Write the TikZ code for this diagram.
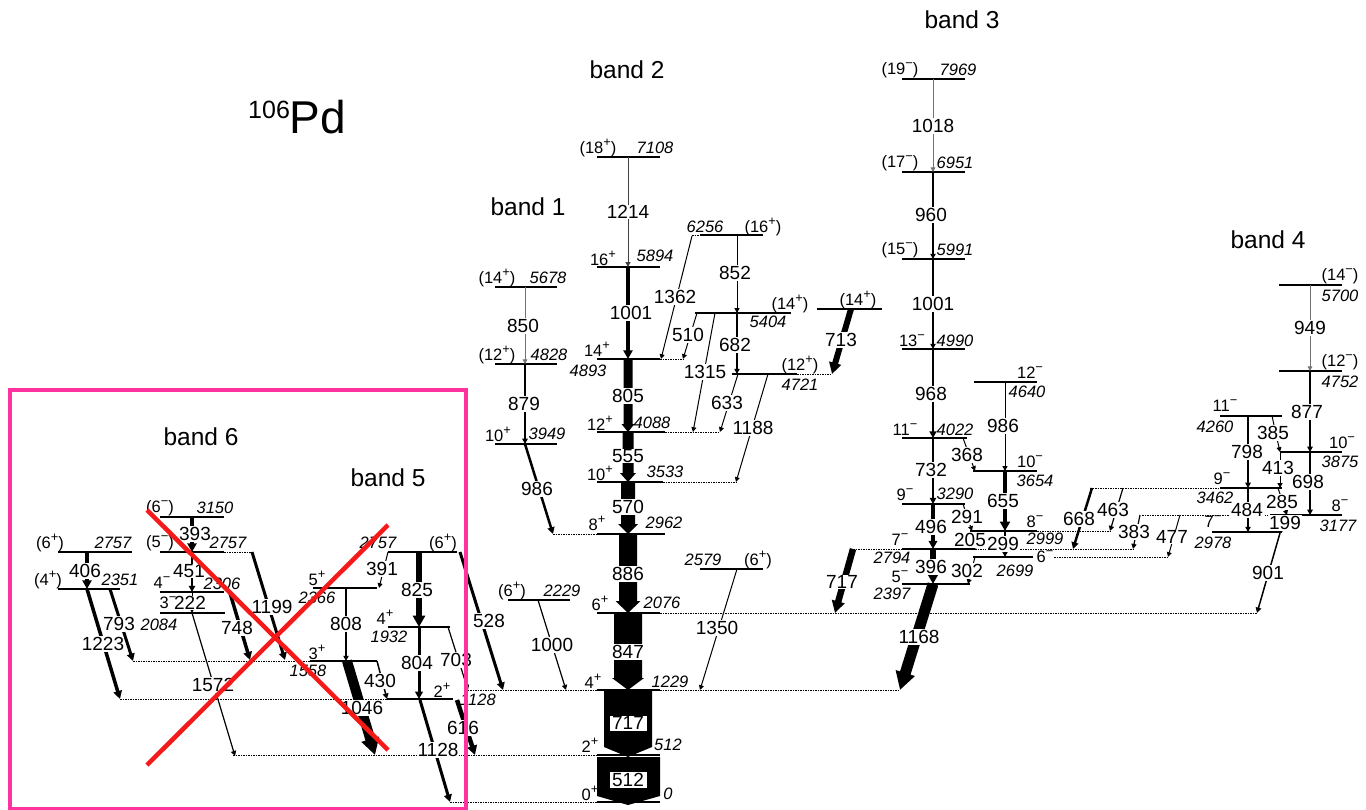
\documentclass[tikz,border=0pt]{standalone}
\usepackage{fontspec}
\usepackage{graphicx}
\setmainfont{Liberation Sans}
\usetikzlibrary{arrows.meta}
\definecolor{pinkc}{RGB}{255,51,160}
\definecolor{redx}{RGB}{245,25,25}
\newcommand\Sp[2]{#1\raisebox{0.42em}{\scalebox{0.78}{#2}}}
\newcommand\Lvl[3]{\draw[lev] (#1,#3) -- (#2,#3);}
\newcommand\Lext[3]{\draw[ext] (#1,#3) -- (#2,#3);}
\newcommand\Gam[8]{\draw[#1] (#2,#3) -- (#4,#5); \node[tl] (g#6-#7) at (#7,#8) {#6};}
\newcommand\Fat[8]{%
  \fill (#1-#4/2,#2) -- (#1+#4/2,#2) -- (#1+#4/2,#3-#6) -- (#1+#5/2,#3-#6) -- (#1,#3) -- (#1-#5/2,#3-#6) -- (#1-#4/2,#3-#6) -- cycle;
  \node[tl] (g#7) at (#1,#8) {#7};}
\newcommand\En[3]{\node[en] (e#1-#2) at (#1,#2) {#3};}
\newcommand\Sl[3]{\node[spl] (s#1-#2) at (#1,#2) {#3};}
\tikzset{
  lev/.style={line width=1.1pt},
  ext/.style={line width=0.9pt, dash pattern=on 1.5pt off 1pt},
  trn/.style={line width=#1, -{Triangle[length=3.5pt 1.3,width=3.5pt 1.4]}},
  tl/.style={font=\fontsize{19}{19}\selectfont, fill=white, inner sep=0.8pt},
  en/.style={font=\fontsize{16.5}{16.5}\selectfont\itshape, inner sep=0pt},
  spl/.style={font=\fontsize{16.5}{16.5}\selectfont, inner sep=0pt},
  band/.style={font=\fontsize{24.5}{24.5}\selectfont, inner sep=0pt},
  boxl/.style={font=\fontsize{19}{19}\selectfont, fill=white, draw=black, line width=0.6pt, inner xsep=3pt, inner ysep=1.5pt}
}
\begin{document}
\begin{tikzpicture}[x=1pt,y=-1pt]
\useasboundingbox (0,0) rectangle (1366,810);
% ---------- title and band labels
\node[inner sep=0pt, anchor=base west] (title) at (248,134) {\raisebox{15pt}{\fontsize{25}{25}\selectfont 106}\fontsize{46}{46}\selectfont Pd};
\node[band] (b1) at (528,207) {band 1};
\node[band] (b2) at (627,70) {band 2};
\node[band] (b3) at (962,20) {band 3};
\node[band] (b4) at (1268,240) {band 4};
\node[band] (b5) at (388,478) {band 5};
\node[band] (b6) at (201,437) {band 6};
% ---------- levels band 2
\Lvl{597}{660}{157}
\Lvl{597}{660}{267}
\Lvl{597}{660}{359} \Lext{660}{683}{359}
\Lvl{597}{665}{432} \Lext{665}{720}{432}
\Lvl{597}{663}{482} \Lext{663}{737}{482}
\Lvl{597}{665}{534} \Lext{553}{597}{534}
\Lvl{597}{660}{613} \Lext{660}{1257}{613}
\Lvl{597}{660}{690} \Lext{465}{597}{690} \Lext{660}{900}{690}
\Lvl{597}{660}{755} \Lext{233}{597}{755}
\Lvl{597}{660}{802} \Lext{450}{597}{802}
% band 1
\Lvl{495}{557}{287} \Lvl{495}{557}{364} \Lvl{495}{557}{444}
% side levels
\Lext{692}{700}{235} \Lvl{700}{763}{235}
\Lvl{695}{791}{313}
\Lvl{732}{797}{374} \Lext{797}{832}{374}
\Lvl{817}{882}{309}
\Lvl{508}{570}{600}
\Lvl{700}{763}{569}
% band 3
\Lvl{902}{965}{79}
\Lvl{902}{965}{172}
\Lvl{902}{965}{259}
\Lvl{902}{965}{349}
\Lvl{902}{967}{438}
\Lvl{902}{965}{504}
\Lvl{902}{975}{549} \Lext{853}{902}{549} \Lext{975}{1133}{549}
\Lvl{902}{970}{584}
\Lvl{974}{1037}{382}
\Lvl{973}{1037}{471}
\Lvl{970}{1037}{531} \Lext{1037}{1110}{531}
\Lvl{973}{1033}{557} \Lext{1054}{1168}{557}
% band 4
\Lvl{1279}{1342}{285}
\Lvl{1279}{1342}{371}
\Lvl{1280}{1342}{452}
\Lvl{1270}{1342}{515} \Lext{1142}{1270}{515}
\Lvl{1220}{1282}{416}
\Lvl{1220}{1282}{488} \Lext{1090}{1220}{488}
\Lvl{1212}{1282}{532}
% bands 5, 6
\Lvl{58}{132}{552}
\Lvl{58}{120}{589}
\Lvl{160}{224}{517}
\Lvl{160}{224}{552} \Lext{224}{252}{552}
\Lvl{160}{224}{592}
\Lvl{160}{225}{613}
\Lvl{388}{457}{552}
\Lvl{313}{377}{588}
\Lvl{310}{377}{661} \Lext{133}{310}{661}
\Lvl{388}{450}{627}
\Lvl{387}{453}{699} \Lext{120}{387}{699}
% ---------- transitions band 2
\Gam{trn=1pt,black!75}{628}{157}{628}{267}{1214}{628}{212}
\Gam{trn=4pt}{628}{267}{628}{359}{1001}{631}{313}
\Fat{628}{359}{432}{9}{13}{8}{805}{396}
\Fat{628}{432}{482}{11}{16}{9}{555}{456}
\Fat{628}{482}{534}{14}{20}{10}{570}{507}
\Fat{628}{534}{613}{18}{25}{12}{886}{574}
\Fat{628}{613}{690}{28}{32}{12}{847}{652}
\fill (604,690) -- (652,690) -- (652,747) -- (628,757) -- (604,747) -- cycle;
\node[boxl] (g717) at (628,723) {717};
\fill (597,757) -- (660,757) -- (660,796) -- (628,805) -- (597,796) -- cycle;
\node[boxl] (g512) at (628,780) {512};
% band 1
\Gam{trn=0.8pt,black!55}{525}{287}{525}{364}{850}{523}{326}
\Gam{trn=1.5pt}{525}{364}{525}{444}{879}{524}{404}
\Gam{trn=2.5pt}{525}{444}{553}{534}{986}{537}{489}
% side
\Gam{trn=1pt}{692}{236}{661}{359}{1362}{675}{297}
\Gam{trn=1pt}{737}{235}{737}{313}{852}{735}{273}
\Gam{trn=1pt}{697}{313}{683}{359}{510}{688}{335}
\Gam{trn=1pt}{715}{313}{693}{432}{1315}{705}{372}
\Gam{trn=1.2pt}{737}{313}{737}{374}{682}{735}{345}
\Gam{trn=1pt}{738}{374}{720}{432}{633}{727}{403}
\Gam{trn=1pt}{768}{374}{736}{482}{1188}{753}{428}
\Gam{trn=6pt}{851}{309}{832}{374}{713}{841}{340}
\Gam{trn=1.2pt}{538}{600}{566}{690}{1000}{552}{645}
\Gam{trn=1pt}{737}{569}{700}{690}{1350}{717}{628}
% band 3
\Gam{trn=0.8pt,black!55}{933}{79}{933}{172}{1018}{933}{126}
\Gam{trn=1.2pt}{933}{172}{933}{259}{960}{931}{215}
\Gam{trn=1.3pt}{933}{259}{933}{349}{1001}{933}{304}
\Gam{trn=2.5pt}{933}{349}{933}{438}{968}{931}{394}
\Gam{trn=2pt}{933}{438}{933}{504}{732}{931}{470}
\Gam{trn=3.5pt}{933}{504}{933}{549}{496}{931}{527}
\Gam{trn=6pt}{933}{549}{933}{584}{396}{931}{567}
\Gam{trn=11pt}{933}{584}{900}{690}{1168}{919}{637}
\Gam{trn=6.5pt}{853}{549}{835}{613}{717}{842}{582}
\Gam{trn=1pt}{1005}{382}{1005}{471}{986}{1003}{426}
\Gam{trn=4.5pt}{1005}{471}{1005}{531}{655}{1003}{501}
\Gam{trn=1.2pt}{1005}{531}{1005}{557}{299}{1003}{544}
\Gam{trn=1pt}{963}{438}{975}{471}{368}{967}{455}
\Gam{trn=1pt}{963}{504}{972}{531}{291}{967}{517}
\Gam{trn=1pt}{972}{531}{976}{549}{205}{970}{540}
\Gam{trn=1pt}{975}{557}{968}{584}{302}{967}{571}
\Gam{trn=2.5pt}{1092}{488}{1073}{549}{668}{1079}{519}
\Gam{trn=1.2pt}{1123}{488}{1110}{531}{463}{1113}{510}
\Gam{trn=1.2pt}{1140}{515}{1133}{549}{383}{1134}{532}
\Gam{trn=1pt}{1180}{515}{1168}{557}{477}{1172}{537}
% band 4
\Gam{trn=0.8pt,black!55}{1310}{285}{1310}{371}{949}{1310}{328}
\Gam{trn=1.5pt}{1310}{371}{1310}{452}{877}{1307}{412}
\Gam{trn=1.5pt}{1310}{452}{1310}{515}{698}{1308}{482}
\Gam{trn=1.5pt}{1248}{416}{1248}{488}{798}{1247}{452}
\Gam{trn=1.2pt}{1248}{488}{1248}{532}{484}{1247}{510}
\Gam{trn=1pt}{1272}{416}{1280}{452}{385}{1273}{433}
\Gam{trn=1pt}{1280}{452}{1280}{488}{413}{1278}{468}
\Gam{trn=1pt}{1278}{488}{1287}{515}{285}{1282}{502}
\Gam{trn=1pt}{1286}{515}{1282}{532}{199}{1285}{523}
\Gam{trn=1.5pt}{1280}{533}{1257}{613}{901}{1268}{573}
% bands 5, 6
\Gam{trn=4pt}{87}{552}{87}{589}{406}{85}{571}
\Gam{trn=3.5pt}{87}{589}{120}{699}{1223}{103}{644}
\Gam{trn=3pt}{110}{589}{133}{661}{793}{119}{624}
\Gam{trn=4pt}{192}{517}{192}{552}{393}{195}{534}
\Gam{trn=2pt}{192}{552}{192}{592}{451}{189}{571}
\Gam{trn=1pt}{192}{592}{192}{613}{222}{190}{603}
\Gam{trn=3.5pt}{230}{593}{250}{660}{748}{237}{628}
\Gam{trn=1.2pt}{192}{613}{235}{756}{1572}{213}{685}
\Gam{trn=3pt}{252}{552}{285}{660}{1199}{272}{607}
\Gam{trn=1pt}{388}{552}{379}{588}{391}{382}{569}
\Gam{trn=1.2pt}{346}{588}{346}{661}{808}{346}{624}
\Gam{trn=10pt}{347}{661}{375}{755}{1046}{362}{708}
\Gam{trn=1.5pt}{377}{661}{387}{699}{430}{380}{681}
\Gam{trn=6pt}{419}{552}{419}{627}{825}{417}{590}
\Gam{trn=3pt}{419}{627}{419}{699}{804}{417}{663}
\Gam{trn=1.2pt}{448}{627}{468}{690}{703}{456}{660}
\Gam{trn=4.5pt}{457}{700}{475}{755}{616}{463}{728}
\Gam{trn=3pt}{460}{552}{503}{690}{528}{489}{621}
\Gam{trn=3pt}{420}{700}{450}{802}{1128}{438}{750}
% ---------- spins and energies band 2
\Sl{598}{148}{(\Sp{18}{+})} \En{655}{148}{7108}
\Sl{603}{258}{\Sp{16}{+}} \En{655}{256}{5894}
\Sl{597}{349}{\Sp{14}{+}} \En{588}{371}{4893}
\Sl{600}{423}{\Sp{12}{+}} \En{652}{423}{4088}
\Sl{600}{473}{\Sp{10}{+}} \En{665}{472}{3533}
\Sl{597}{523}{\Sp{8}{+}} \En{664}{523}{2962}
\Sl{600}{603}{\Sp{6}{+}} \En{662}{603}{2076}
\Sl{593}{681}{\Sp{4}{+}} \En{670}{682}{1229}
\Sl{590}{745}{\Sp{2}{+}} \En{668}{745}{512}
\Sl{590}{793}{\Sp{0}{+}} \En{668}{794}{0}
% band 1
\Sl{497}{278}{(\Sp{14}{+})} \En{548}{278}{5678}
\Sl{497}{355}{(\Sp{12}{+})} \En{549}{355}{4828}
\Sl{498}{434}{\Sp{10}{+}} \En{547}{434}{3949}
% side
\En{705}{227}{6256} \Sl{763}{227}{(\Sp{16}{+})}
\Sl{790}{304}{(\Sp{14}{+})} \En{768}{322}{5404}
\Sl{800}{365}{(\Sp{12}{+})} \En{800}{385}{4721}
\Sl{858}{300}{(\Sp{14}{+})}
\Sl{512}{591}{(\Sp{6}{+})} \En{562}{591}{2229}
\En{703}{560}{2579} \Sl{758}{560}{(\Sp{6}{+})}
% band 3
\Sl{900}{70}{(\Sp{19}{−})} \En{958}{70}{7969}
\Sl{900}{163}{(\Sp{17}{−})} \En{955}{163}{6951}
\Sl{900}{250}{(\Sp{15}{−})} \En{955}{250}{5991}
\Sl{912}{341}{\Sp{13}{−}} \En{955}{341}{4990}
\Sl{905}{430}{\Sp{11}{−}} \En{955}{430}{4022}
\Sl{905}{495}{\Sp{9}{−}} \En{955}{494}{3290}
\Sl{900}{540}{\Sp{7}{−}} \En{892}{558}{2794}
\Sl{900}{577}{\Sp{5}{−}} \En{892}{594}{2397}
\Sl{1030}{373}{\Sp{12}{−}} \En{1027}{392}{4640}
\Sl{1030}{462}{\Sp{10}{−}} \En{1035}{481}{3654}
\Sl{1035}{522}{\Sp{8}{−}} \En{1045}{539}{2999}
\node[spl, fill=white, inner sep=0.5pt] (s6m) at (1045,557) {\Sp{6}{−}}; \En{1015}{571}{2699}
% band 4
\Sl{1340}{276}{(\Sp{14}{−})} \En{1340}{296}{5700}
\Sl{1340}{362}{(\Sp{12}{−})} \En{1340}{382}{4752}
\Sl{1342}{443}{\Sp{10}{−}} \En{1340}{462}{3875}
\Sl{1340}{506}{\Sp{8}{−}} \En{1338}{526}{3177}
\Sl{1225}{406}{\Sp{11}{−}} \En{1215}{427}{4260}
\Sl{1222}{479}{\Sp{9}{−}} \En{1215}{498}{3462}
\Sl{1213}{522}{\Sp{7}{−}} \En{1213}{543}{2978}
% bands 5, 6
\Sl{50}{543}{(\Sp{6}{+})} \En{113}{543}{2757}
\Sl{48}{580}{(\Sp{4}{+})} \En{120}{580}{2351}
\Sl{160}{508}{(\Sp{6}{−})} \En{215}{508}{3150}
\Sl{160}{543}{(\Sp{5}{−})} \En{228}{543}{2757}
\Sl{162}{583}{\Sp{4}{−}} \En{222}{584}{2306}
\Sl{168}{603}{\Sp{3}{−}} \En{159}{625}{2084}
\En{378}{543}{2757} \Sl{443}{543}{(\Sp{6}{+})}
\Sl{317}{578}{\Sp{5}{+}} \En{317}{598}{2366}
\Sl{317}{652}{\Sp{3}{+}} \En{308}{671}{1558}
\Sl{385}{617}{\Sp{4}{+}} \En{389}{637}{1932}
\Sl{442}{690}{\Sp{2}{+}} \En{478}{700}{1128}
% ---------- overlay
\draw[pinkc, line width=3.5pt] (10,390) rectangle (466,809);
\draw[redx, line width=4.5pt] (147,510) -- (388,750);
\draw[redx, line width=4.5pt] (147,765) -- (388,525);
\end{tikzpicture}
\end{document}
